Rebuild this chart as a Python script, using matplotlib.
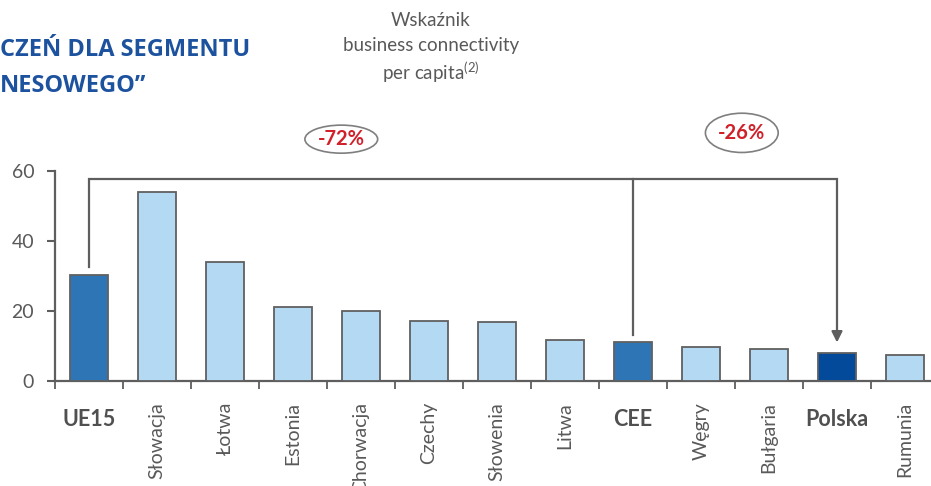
import matplotlib.pyplot as plt
from matplotlib.patches import Ellipse

# data
countries = ['UE15', 'Słowacja', 'Łotwa', 'Estonia', 'Chorwacja', 'Czechy', 'Słowenia',
             'Litwa', 'CEE', 'Węgry', 'Bułgaria', 'Polska', 'Rumunia']
values = [30.3, 54.0, 34.0, 21.2, 20.0, 17.1, 16.9, 11.7, 11.2, 9.8, 9.0, 7.9, 7.4]
kinds = ['agg', 'c', 'c', 'c', 'c', 'c', 'c', 'c', 'agg', 'c', 'c', 'pl', 'c']
changes = ['-72%', '-26%']

colors = {'agg': '#2E75B6', 'c': '#B4DAF3', 'pl': '#034A9B'}
grey = '#5E5E5E'
txt = '#595959'

plt.rcParams['font.family'] = ['Lato', 'DejaVu Sans']

fig = plt.figure(figsize=(9.31, 4.86), dpi=100)
ax = fig.add_axes([55/931, 105/486, 884/931, 210.3/486])

x = list(range(len(countries)))
ax.bar(x, values, width=0.56, color=[colors[k] for k in kinds],
       edgecolor='#606060', linewidth=1.3, zorder=3)

ax.set_xlim(-0.5, len(countries) - 0.5)
ax.set_ylim(0, 60)
ax.set_yticks([0, 20, 40, 60])
ax.tick_params(axis='y', length=6, width=1.5, color=grey, labelsize=14, labelcolor=txt, pad=9)
ax.set_xticks([i - 0.5 for i in range(len(countries) + 1)])
ax.set_xticklabels([])
ax.tick_params(axis='x', length=6, width=1.3, color=grey)
for s in ['top', 'right']:
    ax.spines[s].set_visible(False)
for s in ['left', 'bottom']:
    ax.spines[s].set_color(grey)
    ax.spines[s].set_linewidth(1.6)

# category labels
tr = ax.get_xaxis_transform()
for i, (name, k) in enumerate(zip(countries, kinds)):
    if k in ('agg', 'pl'):
        ax.text(i, -0.185, name, transform=tr, ha='center', va='center',
                fontsize=15.5, fontweight='bold', color='#505050')
    else:
        ax.text(i, -0.10, name, transform=tr, ha='center', va='top', rotation=90,
                fontsize=14, color=txt)

# bracket lines
top = 57.7
i_ue, i_cee, i_pl = 0, 8, 11
ax.plot([i_ue, i_ue, i_pl, i_pl], [32.6, top, top, 12.5], color=grey, lw=1.6,
        clip_on=False, zorder=4, solid_joinstyle='miter')
ax.plot([i_cee, i_cee], [top, 13.1], color=grey, lw=1.6, clip_on=False, zorder=4)
ax.annotate('', xy=(i_pl, 10.2), xytext=(i_pl, 13.5),
            arrowprops=dict(arrowstyle='-|>', color=grey, lw=1.6, mutation_scale=16),
            annotation_clip=False)

# change bubbles
for cx, cy, h, lab in [(3.71, 69.0, 8.0, changes[0]), (9.6, 70.8, 11.2, changes[1])]:
    ax.add_patch(Ellipse((cx, cy), 1.07, h, facecolor='white', edgecolor='#7F7F7F',
                         lw=1.2, clip_on=False))
    ax.text(cx, cy, lab, ha='center', va='center', fontsize=14.5, fontweight='bold',
            color='#D0202A')

# titles (cropped in the original)
fig.text(0, 1 - 50/486, 'CZEŃ DLA SEGMENTU', fontsize=17, fontweight='bold',
         color='#1C529E', family=['Open Sans', 'DejaVu Sans'], va='center', ha='left')
fig.text(0, 1 - 86/486, 'NESOWEGO”', fontsize=17, fontweight='bold',
         color='#1C529E', family=['Open Sans', 'DejaVu Sans'], va='center', ha='left')

fig.text(431/931, 1 - 20/486, 'Wskaźnik', ha='center', va='center', fontsize=13.5, color=txt)
fig.text(431/931, 1 - 46/486, 'business connectivity', ha='center', va='center',
         fontsize=13.5, color=txt)
fig.text(431/931, 1 - 72/486, r'per capita$^{\mathregular{(2)}}$', ha='center',
         va='center', fontsize=13.5, color=txt)

fig.savefig('out.png', dpi=100)
